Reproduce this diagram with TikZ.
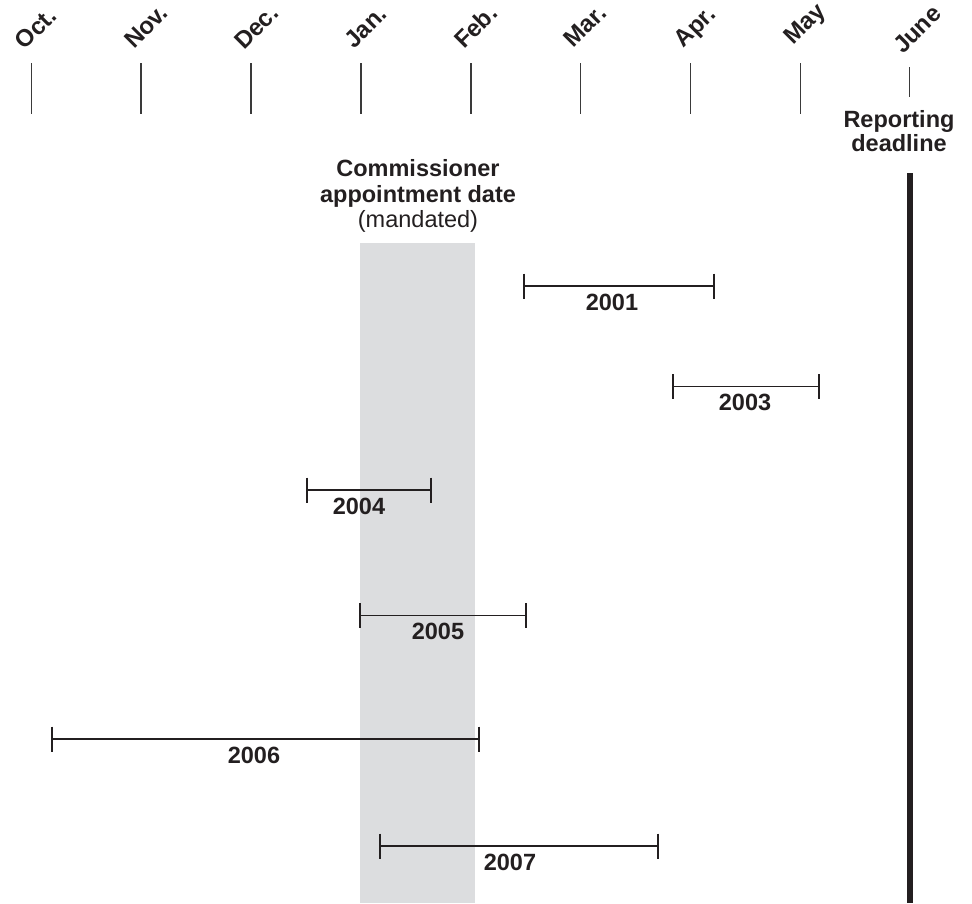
\documentclass[tikz,border=0pt]{standalone}
\usepackage{fontspec}
\setmainfont{Liberation Sans}
\usetikzlibrary{calc}
\definecolor{inkc}{HTML}{231F20}
\definecolor{tickc}{HTML}{3A3A3A}
\definecolor{bandc}{HTML}{DCDDDF}
\begin{document}
\begin{tikzpicture}[x=1pt,y=-1pt]
\tikzset{
  monthtick/.style={draw=tickc, line width=1.2pt},
  monthlab/.style={rotate=45, anchor=base west, inner sep=0pt, text=inkc,
    font=\fontsize{24}{24}\selectfont\bfseries},
  yearlab/.style={anchor=base, inner sep=0pt, text=inkc,
    font=\fontsize{23.5}{23.5}\selectfont\bfseries},
  headlab/.style={anchor=base, inner sep=0pt, text=inkc,
    font=\fontsize{23.5}{23.5}\selectfont\bfseries},
  headreg/.style={anchor=base, inner sep=0pt, text=inkc,
    font=\fontsize{23.5}{23.5}\selectfont},
  spanline/.style={draw=inkc, line width=1.4pt},
  endtick/.style={draw=inkc, line width=2.8pt},
  deadbar/.style={draw=inkc, line width=6.5pt},
}
\useasboundingbox (0,0) rectangle (972,903);
% mandated appointment band
\fill[bandc] (360,243) rectangle (475,903);
% month labels and ticks
\foreach \i/\lab/\x/\ly in {1/Oct./31.7/51, 2/Nov./141/50, 3/Dec./251/51,
  4/Jan./361/50, 5/Feb./471/50, 6/Mar./580.7/49, 7/Apr./690.7/49,
  8/May/800.7/46}{
  \node[monthlab] (m\i) at (\x-7,\ly) {\lab};
  \coordinate (ta\i) at (\x,63);
  \coordinate (tb\i) at (\x,114);
  \draw[monthtick] (ta\i) -- (tb\i);
}
\node[monthlab] (m9) at (903,55) {June};
\coordinate (ta9) at (909.3,67);
\coordinate (tb9) at (909.3,97);
\draw[monthtick] (ta9) -- (tb9);
% reporting deadline
\node[headlab] (rep1) at (899,127) {Reporting};
\node[headlab] (rep2) at (899,151) {deadline};
\coordinate (dtop) at (910,173);
\coordinate (dbot) at (910,903);
\draw[deadbar] (dtop) -- (dbot);
% commissioner label
\node[headlab] (com1) at (418,176) {Commissioner};
\node[headlab] (com2) at (418,202) {appointment date};
\node[headreg] (com3) at (418,227) {(mandated)};
% year spans
\foreach \yr/\a/\b/\y/\lx in {2001/524/714/286/612, 2003/673/819/386.5/745,
  2004/307/431/490/359, 2005/360/526/615.5/438, 2006/52/479/739/254,
  2007/380/658/846/510}{
  \coordinate (s\yr) at (\a,\y);
  \coordinate (e\yr) at (\b,\y);
  \draw[spanline] (s\yr) -- (e\yr);
  \draw[endtick] ([yshift=12.5pt]s\yr) -- ([yshift=-12.5pt]s\yr);
  \draw[endtick] ([yshift=12.5pt]e\yr) -- ([yshift=-12.5pt]e\yr);
  \node[yearlab] (y\yr) at (\lx,\y+24) {\yr};
}
\end{tikzpicture}
\end{document}
